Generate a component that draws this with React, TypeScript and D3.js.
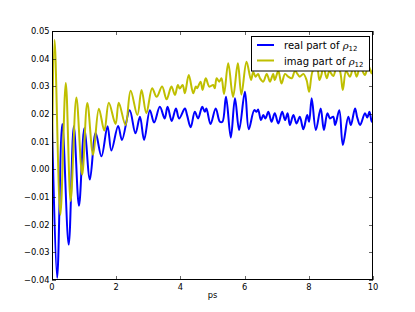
import React from "react";
import * as d3 from "d3";

const W = 415;
const H = 312;
const M = { left: 52, right: 373, top: 31, bottom: 280 };

const xTicks = [0, 2, 4, 6, 8, 10];
const yTicks = [-0.04, -0.03, -0.02, -0.01, 0.0, 0.01, 0.02, 0.03, 0.04, 0.05];
const yTickLabels = ["\u22120.04", "\u22120.03", "\u22120.02", "\u22120.01", "0.00", "0.01", "0.02", "0.03", "0.04", "0.05"];
const xLabel = "ps";

const realX = [0, 0.16, 0.32, 0.52, 0.68, 0.84, 1.01, 1.18, 1.36, 1.54, 1.73, 1.85, 2.06, 2.18, 2.42, 2.6, 2.74, 2.87, 3.05, 3.18, 3.36, 3.51, 3.6, 3.73, 3.86, 3.96, 4.14, 4.21, 4.32, 4.45, 4.55, 4.68, 4.76, 4.81, 4.94, 5.1, 5.23, 5.31, 5.42, 5.57, 5.7, 5.83, 6.01, 6.13, 6.3, 6.37, 6.42, 6.51, 6.58, 6.65, 6.74, 6.84, 6.94, 7.05, 7.17, 7.26, 7.34, 7.41, 7.52, 7.62, 7.72, 7.83, 7.95, 8.01, 8.09, 8.22, 8.37, 8.47, 8.58, 8.66, 8.76, 8.82, 8.95, 9.06, 9.23, 9.31, 9.44, 9.51, 9.6, 9.75, 9.82, 9.89, 9.96, 10.0];
const realY = [0.017, -0.0392, 0.0164, -0.0272, 0.0156, -0.0132, 0.0149, -0.0037, 0.0131, 0.0047, 0.0156, 0.0068, 0.0157, 0.0106, 0.0214, 0.013, 0.019, 0.0106, 0.0214, 0.0169, 0.0226, 0.0184, 0.0226, 0.0175, 0.022, 0.0184, 0.022, 0.0195, 0.0152, 0.0208, 0.0184, 0.0226, 0.0208, 0.022, 0.0164, 0.022, 0.0172, 0.0172, 0.0262, 0.0115, 0.0257, 0.0142, 0.028, 0.0145, 0.0214, 0.0208, 0.0216, 0.0178, 0.0196, 0.0184, 0.0208, 0.0172, 0.0203, 0.0166, 0.0208, 0.0178, 0.0203, 0.016, 0.0196, 0.0166, 0.019, 0.0145, 0.0196, 0.0172, 0.0257, 0.0142, 0.022, 0.0142, 0.0203, 0.0184, 0.019, 0.016, 0.0214, 0.0088, 0.019, 0.016, 0.022, 0.0187, 0.016, 0.0203, 0.0187, 0.0208, 0.0172, 0.0185];

const imagX = [0, 0.08, 0.26, 0.43, 0.58, 0.76, 0.94, 1.1, 1.28, 1.46, 1.63, 1.77, 1.98, 2.08, 2.29, 2.45, 2.66, 2.79, 2.94, 3.12, 3.26, 3.43, 3.57, 3.72, 3.83, 3.92, 3.98, 4.07, 4.14, 4.26, 4.4, 4.48, 4.52, 4.63, 4.69, 4.79, 4.9, 5.02, 5.07, 5.13, 5.21, 5.28, 5.36, 5.49, 5.64, 5.79, 5.9, 6.06, 6.2, 6.27, 6.34, 6.42, 6.48, 6.58, 6.69, 6.79, 6.89, 6.94, 7.05, 7.15, 7.26, 7.36, 7.47, 7.57, 7.72, 7.83, 7.93, 8.01, 8.12, 8.25, 8.33, 8.4, 8.45, 8.56, 8.64, 8.76, 8.87, 8.97, 9.06, 9.16, 9.28, 9.39, 9.49, 9.6, 9.75, 9.85, 9.96, 10.0];
const imagY = [0.0, 0.0468, -0.0164, 0.0312, -0.0114, 0.026, -0.0019, 0.024, 0.0053, 0.0219, 0.014, 0.0241, 0.0164, 0.0241, 0.016, 0.0284, 0.0196, 0.0287, 0.0203, 0.0293, 0.0262, 0.0299, 0.0253, 0.0299, 0.0269, 0.0305, 0.0292, 0.0305, 0.0275, 0.0341, 0.0275, 0.0299, 0.0293, 0.0317, 0.0287, 0.0329, 0.0299, 0.0305, 0.0293, 0.0329, 0.0317, 0.0329, 0.0272, 0.0383, 0.0262, 0.0383, 0.027, 0.0389, 0.0323, 0.0352, 0.0335, 0.0345, 0.0329, 0.0317, 0.0345, 0.0317, 0.0345, 0.0323, 0.0355, 0.031, 0.0345, 0.0335, 0.0329, 0.0355, 0.0335, 0.0345, 0.0323, 0.028, 0.0355, 0.037, 0.0323, 0.0345, 0.0375, 0.0329, 0.0355, 0.0337, 0.037, 0.0355, 0.0287, 0.0355, 0.0335, 0.037, 0.0335, 0.037, 0.0341, 0.0375, 0.0347, 0.0365];

const legendLabels = ["real part of ", "imag part of "];
const BLUE = "#0000ff";
const YELLOW = "#bfbf00";

export default function App() {
  const x = d3.scaleLinear().domain([0, 10]).range([M.left, M.right]);
  const y = d3.scaleLinear().domain([-0.04, 0.05]).range([M.bottom, M.top]);

  const line = d3
    .line<number>()
    .x((d, i) => x(d))
    .curve(d3.curveCatmullRom.alpha(0.5));

  const realPath = d3
    .line<[number, number]>()
    .x((d) => x(d[0]))
    .y((d) => y(d[1]))
    .curve(d3.curveCatmullRom.alpha(0.5))(realX.map((v, i) => [v, realY[i]]));
  const imagPath = d3
    .line<[number, number]>()
    .x((d) => x(d[0]))
    .y((d) => y(d[1]))
    .curve(d3.curveCatmullRom.alpha(0.5))(imagX.map((v, i) => [v, imagY[i]]));

  const font = "'DejaVu Sans', sans-serif";
  const lx = 251.5;
  const ly = 36.5;
  const lw = 118;
  const lh = 34.5;

  return (
    <svg width={W} height={H} style={{ position: "absolute", left: 0, top: 0, background: "#fff" }}>
      <defs>
        <clipPath id="plotclip">
          <rect x={M.left} y={M.top} width={M.right - M.left} height={M.bottom - M.top} />
        </clipPath>
      </defs>
      <rect x={0} y={0} width={W} height={H} fill="#fff" />
      <g clipPath="url(#plotclip)">
        <path d={realPath || ""} fill="none" stroke={BLUE} strokeWidth={2} strokeLinejoin="round" />
        <path d={imagPath || ""} fill="none" stroke={YELLOW} strokeWidth={2} strokeLinejoin="round" />
      </g>
      {/* frame */}
      <rect x={M.left + 0.5} y={M.top + 0.5} width={M.right - M.left - 1} height={M.bottom - M.top - 1} fill="none" stroke="#000" strokeWidth={1} />
      {/* x ticks */}
      {xTicks.map((t) => (
        <g key={"xt" + t}>
          <line x1={Math.round(x(t)) + 0.5} x2={Math.round(x(t)) + 0.5} y1={M.bottom} y2={M.bottom - 4} stroke="#000" strokeWidth={0.6} />
          <line x1={Math.round(x(t)) + 0.5} x2={Math.round(x(t)) + 0.5} y1={M.top} y2={M.top + 4} stroke="#000" strokeWidth={0.6} />
          <text x={x(t)} y={290} fontFamily={font} fontSize={8.3} textAnchor="middle" fill="#000">
            {t}
          </text>
        </g>
      ))}
      {/* y ticks */}
      {yTicks.map((t, i) => (
        <g key={"yt" + i}>
          <line x1={M.left} x2={M.left + 4} y1={Math.round(y(t)) + 0.5} y2={Math.round(y(t)) + 0.5} stroke="#000" strokeWidth={0.6} />
          <line x1={M.right} x2={M.right - 4} y1={Math.round(y(t)) + 0.5} y2={Math.round(y(t)) + 0.5} stroke="#000" strokeWidth={0.6} />
          <text x={49.5} y={y(t) + 3} fontFamily={font} fontSize={8.3} textAnchor="end" fill="#000">
            {yTickLabels[i]}
          </text>
        </g>
      ))}
      <text x={(M.left + M.right) / 2} y={298} fontFamily={font} fontSize={8.3} textAnchor="middle" fill="#000">
        {xLabel}
      </text>
      {/* legend */}
      <rect x={lx} y={ly} width={lw} height={lh} fill="#fff" stroke="#000" strokeWidth={1} />
      {[BLUE, YELLOW].map((c, i) => (
        <g key={"lg" + i}>
          <line x1={257} x2={274} y1={45 + i * 15.5} y2={45 + i * 15.5} stroke={c} strokeWidth={2} />
          <text x={284} y={49 + i * 15.5} fontFamily={font} fontSize={10} fill="#000">
            {legendLabels[i]}
            <tspan fontFamily="'DejaVu Serif', serif" fontStyle="italic">
              ρ
            </tspan>
            <tspan fontSize={7} dy={2}>
              12
            </tspan>
          </text>
        </g>
      ))}
    </svg>
  );
}
